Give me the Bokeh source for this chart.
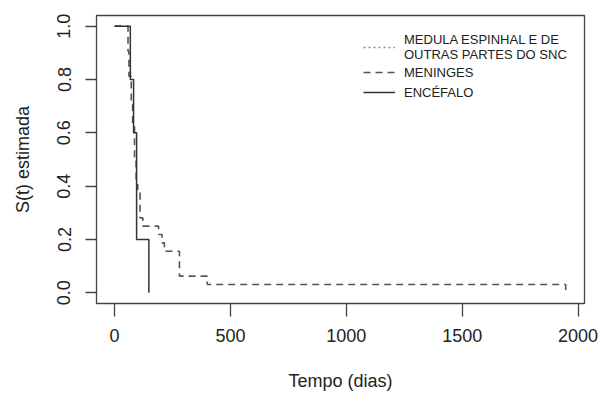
from bokeh.plotting import figure
from bokeh.models import Range1d, FixedTicker, PrintfTickFormatter, Legend, LegendItem
from bokeh.embed import file_html
from bokeh.resources import INLINE

# Kaplan-Meier estimates
enc_t = [0, 68, 82, 95, 148]
enc_s = [1.0, 0.8, 0.6, 0.2, 0.0]

men_t = [0, 58, 62, 72, 78, 86, 93, 100, 110, 122, 190, 205, 215, 280, 400, 1947]
men_s = [1.0, 0.906, 0.8125, 0.719, 0.625, 0.5, 0.406, 0.375, 0.281, 0.25,
         0.219, 0.1875, 0.156, 0.0625, 0.031, 0.0]

# curve not visible in the picture (hidden behind the others); legend entry only
med_t = [0]
med_s = [1.0]

x_ticks = [0, 500, 1000, 1500, 2000]
y_ticks = [0.0, 0.2, 0.4, 0.6, 0.8, 1.0]

labels = ["MEDULA ESPINHAL E DE\nOUTRAS PARTES DO SNC", "MENINGES", "ENCÉFALO"]
x_title = "Tempo (dias)"
y_title = "S(t) estimada"

FONT = "Liberation Sans"

p = figure(width=602, height=394, output_backend="svg", toolbar_location=None,
           x_range=Range1d(-78, 2028), y_range=Range1d(-0.04, 1.04),
           min_border_left=96, min_border_right=18, min_border_top=15, min_border_bottom=91)
p.background_fill_color = "white"
p.border_fill_color = "white"
p.outline_line_color = "#444444"
p.outline_line_width = 1.3
p.xgrid.visible = False
p.ygrid.visible = False

r_med = p.line(x=med_t, y=med_s, line_color="#888888", line_width=1.5, line_dash="2 3")
r_men = p.step(x=men_t, y=men_s, mode="after", line_color="#555555", line_width=1.6, line_dash="7 5")
r_enc = p.step(x=enc_t, y=enc_s, mode="after", line_color="#333333", line_width=1.5)

for ax in (p.xaxis[0], p.yaxis[0]):
    ax.axis_line_color = None
    ax.major_tick_line_color = "#444444"
    ax.major_tick_line_width = 1.3
    ax.major_tick_in = 0
    ax.minor_tick_line_color = None
    ax.major_label_text_font = FONT
    ax.major_label_text_font_size = "18px"
    ax.major_label_text_color = "#222222"
    ax.axis_label_text_font = FONT
    ax.axis_label_text_font_size = "18px"
    ax.axis_label_text_font_style = "normal"
    ax.axis_label_text_color = "#222222"

p.xaxis.ticker = FixedTicker(ticks=x_ticks)
p.yaxis.ticker = FixedTicker(ticks=y_ticks)
p.yaxis.formatter = PrintfTickFormatter(format="%.1f")
p.xaxis.major_tick_out = 13
p.yaxis.major_tick_out = 11
p.xaxis.major_label_standoff = 12
p.yaxis.major_label_standoff = 15
p.yaxis.major_label_orientation = "vertical"
p.xaxis.axis_label = x_title
p.yaxis.axis_label = y_title
p.xaxis.axis_label_standoff = 26
p.yaxis.axis_label_standoff = 22

legend = Legend(items=[LegendItem(label=labels[0], renderers=[r_med]),
                       LegendItem(label=labels[1], renderers=[r_men]),
                       LegendItem(label=labels[2], renderers=[r_enc])],
                location=(267, 201))
legend.border_line_color = None
legend.background_fill_alpha = 0
legend.label_text_font = FONT
legend.label_text_font_size = "13px"
legend.label_text_line_height = 1.0
legend.label_text_color = "#222222"
legend.glyph_width = 32
legend.label_standoff = 9
legend.padding = 0
legend.margin = 0
legend.spacing = 0
p.add_layout(legend, "center")

open("out.html", "w").write(file_html(p, INLINE))
